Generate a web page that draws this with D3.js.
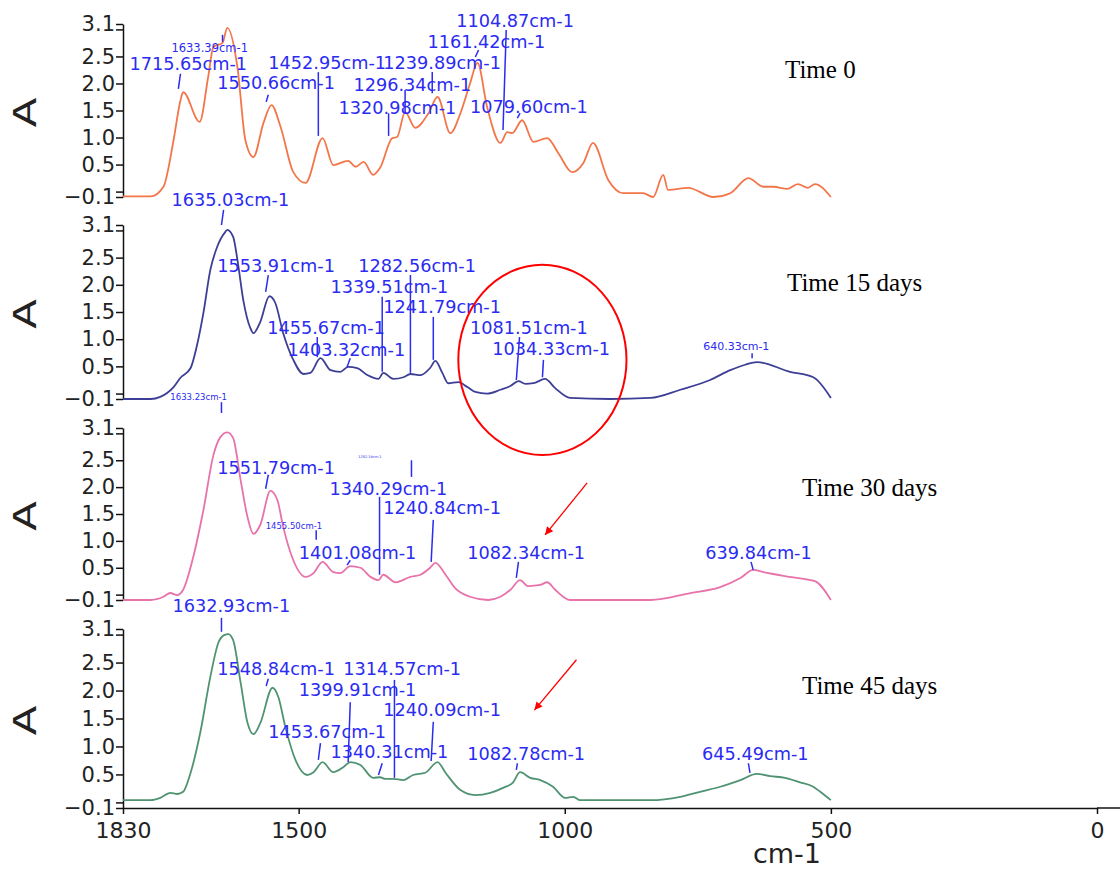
<!DOCTYPE html>
<html lang="en">
<head>
    <meta charset="UTF-8">
    <title>FTIR spectra over time</title>
    <script src="https://d3js.org/d3.v7.min.js"></script>
    <style>
        body { margin: 0; background: #fff; }
        .tick text { fill: #222; }
        .peak { font-family: "DejaVu Sans", sans-serif; fill: #2b2bf2; }
        .timeLabel { font-family: "Liberation Serif", serif; font-size: 25px; fill: #000; }
    </style>
</head>
<body>
    <script>
        // spectra: [wavenumber cm-1, absorbance]
        const time0 = [
            [1830,-0.09],[1778,-0.09],[1754,0.09],[1735,0.95],[1722,1.69],[1717,1.84],[1686,1.29],
            [1670,2.12],[1660,2.68],[1643,2.75],[1634,3.03],[1615,2.3],[1600,0.95],[1585,0.64],
            [1566,1.27],[1551,1.6],[1534,1.2],[1510,0.36],[1487,0.16],[1455,0.99],[1435,0.49],
            [1407,0.57],[1393,0.46],[1378,0.55],[1360,0.31],[1347,0.44],[1324,0.99],[1315,1.01],
            [1300,1.47],[1281,1.18],[1256,1.45],[1239,1.75],[1215,1.08],[1196,1.45],[1178,2.0],
            [1164,2.38],[1146,1.57],[1121,0.9],[1108,1.1],[1099,1.08],[1080,1.32],[1059,0.92],
            [1033,0.99],[1012,0.71],[986,0.36],[965,0.53],[947,0.9],[918,0.21],[890,-0.03],
            [853,-0.03],[834,-0.1],[815,0.31],[806,0.03],[768,0.07],[721,-0.1],[689,-0.03],
            [655,0.25],[627,0.09],[608,0.09],[582,0.05],[562,0.14],[543,0.07],[530,0.14],[500,-0.1]
        ];
        const time15 = [
            [1830,-0.1],[1778,-0.1],[1760,-0.06],[1735,0.12],[1722,0.29],[1703,0.47],[1690,0.93],
            [1679,1.48],[1666,2.27],[1653,2.7],[1638,2.97],[1634,3.01],[1623,2.88],[1615,2.46],
            [1604,1.72],[1591,1.21],[1585,1.11],[1572,1.32],[1555,1.79],[1544,1.67],[1529,1.11],
            [1510,0.62],[1491,0.36],[1478,0.38],[1459,0.65],[1440,0.43],[1422,0.4],[1407,0.49],
            [1390,0.47],[1371,0.34],[1350,0.27],[1341,0.38],[1322,0.27],[1303,0.3],[1290,0.36],
            [1271,0.34],[1253,0.47],[1243,0.6],[1230,0.38],[1219,0.19],[1200,0.21],[1183,0.12],
            [1168,0.03],[1146,0.0],[1121,0.07],[1102,0.14],[1087,0.23],[1074,0.18],[1059,0.19],
            [1037,0.27],[1018,0.1],[990,-0.08],[915,-0.1],[839,-0.08],[783,0.07],[727,0.25],
            [689,0.43],[661,0.53],[639,0.58],[577,0.4],[533,0.3],[500,-0.08]
        ];
        const time30 = [
            [1830,-0.1],[1778,-0.1],[1754,-0.04],[1741,0.03],[1728,-0.01],[1717,0.09],[1698,0.7],
            [1679,1.57],[1660,2.6],[1647,2.93],[1634,3.02],[1623,2.91],[1609,2.13],[1596,1.44],
            [1585,1.13],[1572,1.3],[1553,1.93],[1540,1.76],[1529,1.26],[1510,0.64],[1487,0.33],
            [1472,0.4],[1455,0.61],[1435,0.42],[1422,0.4],[1403,0.53],[1384,0.5],[1365,0.33],
            [1350,0.27],[1341,0.37],[1318,0.23],[1290,0.33],[1271,0.37],[1253,0.5],[1243,0.59],
            [1224,0.37],[1206,0.12],[1178,-0.04],[1144,-0.1],[1121,-0.04],[1102,0.09],[1084,0.27],
            [1069,0.16],[1046,0.18],[1033,0.23],[1018,0.09],[990,-0.1],[839,-0.1],[764,0.03],
            [708,0.14],[670,0.31],[646,0.46],[627,0.42],[577,0.33],[530,0.25],[500,-0.1]
        ];
        const time45 = [
            [1830,0.04],[1778,0.04],[1760,0.08],[1741,0.17],[1728,0.15],[1717,0.19],[1703,0.53],
            [1685,1.24],[1666,2.24],[1651,2.85],[1640,2.99],[1632,3.01],[1623,2.9],[1609,2.14],
            [1596,1.42],[1585,1.22],[1572,1.42],[1549,2.05],[1538,1.88],[1525,1.35],[1506,0.76],
            [1484,0.49],[1472,0.54],[1455,0.72],[1435,0.54],[1416,0.63],[1403,0.72],[1384,0.67],
            [1360,0.44],[1347,0.45],[1337,0.42],[1322,0.42],[1303,0.4],[1285,0.49],[1262,0.53],
            [1239,0.72],[1224,0.53],[1196,0.22],[1168,0.13],[1140,0.17],[1116,0.26],[1097,0.36],
            [1084,0.54],[1065,0.44],[1046,0.4],[1022,0.28],[999,0.08],[984,0.1],[971,0.04],
            [839,0.04],[783,0.1],[746,0.19],[708,0.28],[670,0.4],[639,0.51],[614,0.47],
            [586,0.44],[558,0.36],[533,0.28],[520,0.19],[500,0.04]
        ];

        // peak labels: [text, text wn, text A, line wn top, line A top, line wn bottom, line A bottom, small size]
        const peaks0 = [
            ["1633.39cm-1",1739,2.66,1643,2.90,1643,2.77,11.5],
            ["1715.65cm-1",1818,2.37,1722,2.18,1726,1.90],
            ["1550.66cm-1",1653,2.01,1557,1.79,1561,1.66],
            ["1452.95cm-1",1557,2.38,1463,2.21,1463,1.03],
            ["1320.98cm-1",1425,1.56,1331,1.45,1331,1.03],
            ["1296.34cm-1",1397,1.97,1300,1.88,1300,1.45],
            ["1239.89cm-1",1341,2.38,1249,2.21,1249,1.82],
            ["1161.42cm-1",1258,2.77,1162,2.62,1168,2.49],
            ["1104.87cm-1",1204,3.16,1110,2.99,1116,1.14],
            ["1079.60cm-1",1178,1.58,1084,1.45,1089,1.36]
        ];
        const peaks15 = [
            ["1635.03cm-1",1739,3.56,1641,3.38,1645,3.10],
            ["1553.91cm-1",1653,2.36,1557,2.18,1562,1.87],
            ["1455.67cm-1",1559,1.22,1465,1.04,1465,0.67],
            ["1403.32cm-1",1521,0.80,1403,0.65,1409,0.49],
            ["1339.51cm-1",1440,1.96,1343,1.78,1343,0.40],
            ["1282.56cm-1",1388,2.36,1290,2.18,1290,0.38],
            ["1241.79cm-1",1341,1.59,1247,1.41,1247,0.62],
            ["1081.51cm-1",1178,1.22,1085,1.04,1091,0.25],
            ["1034.33cm-1",1136,0.82,1040,0.62,1042,0.30],
            ["640.33cm-1",740,0.87,648,0.74,648,0.65,11]
        ];
        const peaks30 = [
            ["1633.23cm-1",1741,3.68,1645,3.58,1645,3.38,8.5],
            ["1282.19cm-1",1388,2.56,1288,2.50,1288,2.19,3.5],
            ["1551.79cm-1",1653,2.37,1557,2.23,1562,1.97],
            ["1455.50cm-1",1562,1.28,1467,1.20,1467,1.02,8.5],
            ["1340.29cm-1",1442,1.98,1348,1.82,1348,0.37],
            ["1240.84cm-1",1341,1.61,1247,1.39,1251,0.61],
            ["1401.08cm-1",1500,0.79,1403,0.64,1409,0.55],
            ["1082.34cm-1",1183,0.79,1087,0.61,1091,0.31],
            ["639.84cm-1",736,0.78,650,0.61,646,0.46]
        ];
        const peaks45 = [
            ["1632.93cm-1",1737,3.51,1645,3.30,1645,3.05],
            ["1548.84cm-1",1653,2.40,1557,2.21,1561,2.08],
            ["1314.57cm-1",1416,2.40,1320,2.19,1320,0.44],
            ["1399.91cm-1",1500,2.01,1403,1.79,1407,0.72],
            ["1453.67cm-1",1557,1.26,1459,1.06,1463,0.76],
            ["1240.09cm-1",1341,1.65,1247,1.44,1251,0.74],
            ["1340.31cm-1",1440,0.90,1343,0.70,1350,0.49],
            ["1082.78cm-1",1183,0.87,1089,0.70,1091,0.58],
            ["645.49cm-1",742,0.88,655,0.70,652,0.53]
        ];

        const timeLabels = ["Time 0", "Time 15 days", "Time 30 days", "Time 45 days"];
        const yTicks = [-0.1, 0, 0.5, 1.0, 1.5, 2.0, 2.5, 3.0, 3.1];
        const xTicks = [1830, 1500, 1000, 500, 0];

        const series = [time0, time15, time30, time45];
        const peakSets = [peaks0, peaks15, peaks30, peaks45];
        const colors = ["#f3764b", "#3c3f95", "#e872aa", "#4f9372"];

        // layout
        const width = 1120, height = 870;
        const panelTop = [24, 225, 428, 629];
        const panelBottom = [197, 399, 600, 808];
        const labelPos = [[785, 78], [787, 291], [802, 496], [802, 694]];

        const svg = d3.select("body").append("svg")
            .attr("width", width)
            .attr("height", height);

        const x = d3.scaleLinear().domain([1830, 0]).range([123, 1097]);

        const defs = svg.append("defs");
        defs.append("marker")
            .attr("id", "arrow")
            .attr("viewBox", "0 0 10 10")
            .attr("refX", 10).attr("refY", 5)
            .attr("markerWidth", 10).attr("markerHeight", 8)
            .attr("markerUnits", "userSpaceOnUse")
            .attr("orient", "auto")
            .append("path")
            .attr("d", "M0,0L10,5L0,10z")
            .attr("fill", "#f00");

        const yScales = [];

        series.forEach((data, i) => {
            const y = d3.scaleLinear().domain([-0.1, 3.1]).range([panelBottom[i], panelTop[i]]);
            yScales.push(y);

            // y axis
            const ax = svg.append("g")
                .attr("transform", `translate(${x(1830)},0)`)
                .call(d3.axisLeft(y)
                    .tickValues(yTicks)
                    .tickFormat(d => (d === 0 || d === 3) ? "" : d3.format(".1f")(d))
                    .tickSize(7)
                    .tickSizeOuter(0)
                    .tickPadding(1));
            ax.attr("font-family", "DejaVu Sans, sans-serif").attr("font-size", 21);
            ax.selectAll("line, path").attr("stroke", "#111").attr("stroke-width", 1.5);

            // axis title
            svg.append("text")
                .attr("transform", `translate(25,${(panelTop[i] + panelBottom[i]) / 2 + 2}) rotate(-90) scale(1.35,1)`)
                .attr("text-anchor", "middle")
                .attr("dy", "0.35em")
                .attr("font-family", "DejaVu Sans, sans-serif")
                .attr("font-size", 32)
                .attr("fill", "#222")
                .text("A");

            // spectrum
            const line = d3.line()
                .x(d => x(d[0]))
                .y(d => y(d[1]))
                .curve(d3.curveMonotoneX);
            svg.append("path")
                .datum(data)
                .attr("d", line)
                .attr("fill", "none")
                .attr("stroke", colors[i])
                .attr("stroke-width", 1.8);

            // peak labels
            const g = svg.append("g");
            peakSets[i].forEach(p => {
                g.append("line")
                    .attr("x1", x(p[3])).attr("y1", y(p[4]))
                    .attr("x2", x(p[5])).attr("y2", y(p[6]))
                    .attr("stroke", "#2b2bf2")
                    .attr("stroke-width", 1.5);
                g.append("text")
                    .attr("class", "peak")
                    .attr("x", x(p[1]))
                    .attr("y", y(p[2]))
                    .attr("dy", "0.36em")
                    .attr("font-size", p[7] || 17.7)
                    .text(p[0]);
            });

            svg.append("text")
                .attr("class", "timeLabel")
                .attr("x", labelPos[i][0])
                .attr("y", labelPos[i][1])
                .text(timeLabels[i]);
        });

        // x axis
        const xa = svg.append("g")
            .attr("transform", `translate(0,${panelBottom[3]})`)
            .call(d3.axisBottom(x)
                .tickValues(xTicks)
                .tickFormat(d3.format("d"))
                .tickSize(6)
                .tickSizeOuter(0)
                .tickPadding(8));
        xa.attr("font-family", "DejaVu Sans, sans-serif").attr("font-size", 22);
        xa.selectAll("line, path").attr("stroke", "#111").attr("stroke-width", 1.5);
        svg.append("line")
            .attr("x1", x(0)).attr("x2", width)
            .attr("y1", panelBottom[3]).attr("y2", panelBottom[3])
            .attr("stroke", "#111").attr("stroke-width", 1.5);

        svg.append("text")
            .attr("x", 787)
            .attr("y", 863)
            .attr("text-anchor", "middle")
            .attr("font-family", "DejaVu Sans, sans-serif")
            .attr("font-size", 27)
            .attr("fill", "#222")
            .text("cm-1");

        // red highlight: circle on Time 15 and arrows on Time 30 / 45
        const y15 = yScales[1];
        svg.append("ellipse")
            .attr("cx", x(1042)).attr("cy", y15(0.62))
            .attr("rx", x(1042 - 158) - x(1042))
            .attr("ry", y15(0.62 - 1.75) - y15(0.62))
            .attr("fill", "none")
            .attr("stroke", "#f00")
            .attr("stroke-width", 2);

        const arrows = [[2, 958, 2.08, 1037, 1.11], [3, 978, 2.55, 1057, 1.65]];
        arrows.forEach(a => {
            const y = yScales[a[0]];
            svg.append("line")
                .attr("x1", x(a[1])).attr("y1", y(a[2]))
                .attr("x2", x(a[3])).attr("y2", y(a[4]))
                .attr("stroke", "#f00")
                .attr("stroke-width", 1.3)
                .attr("marker-end", "url(#arrow)");
        });
    </script>
</body>
</html>
